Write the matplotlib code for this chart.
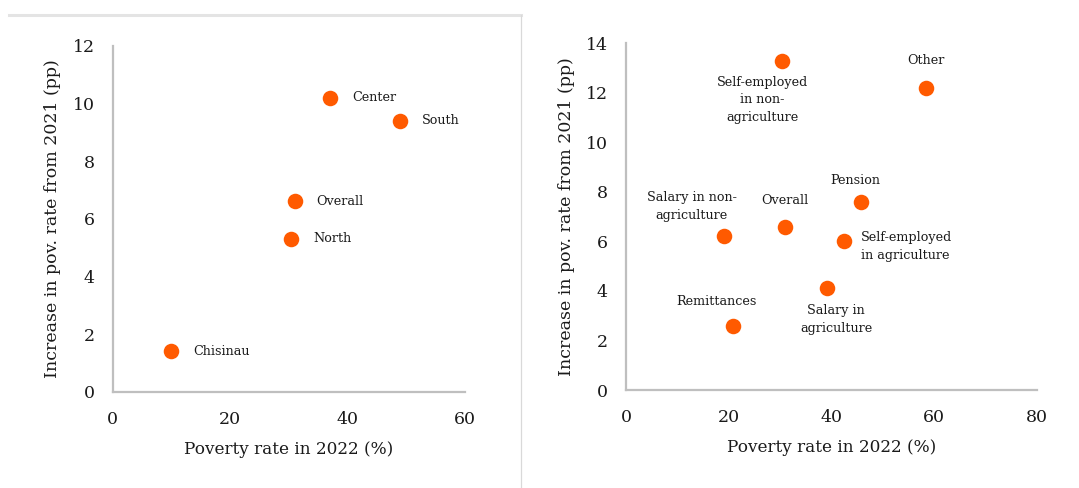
import matplotlib
matplotlib.use("Agg")
import matplotlib.pyplot as plt
from matplotlib.lines import Line2D

# left panel: regions
region_names = ["Chisinau", "North", "Overall", "Center", "South"]
region_pov = [10.0, 30.4, 31.0, 37.0, 48.9]
region_incr = [1.4, 5.3, 6.6, 10.2, 9.4]

# right panel: main income source
source_names = ["Self-employed\nin non-\nagriculture", "Other", "Pension", "Overall",
                "Salary in non-\nagriculture", "Self-employed\nin agriculture",
                "Salary in\nagriculture", "Remittances"]
source_pov = [30.4, 58.4, 45.8, 31.0, 19.0, 42.4, 39.2, 20.8]
source_incr = [13.3, 12.2, 7.6, 6.6, 6.2, 6.0, 4.1, 2.6]

# label offsets in pixels (dx, dy, ha)
source_offsets = [(-20, -39, "center"), (0, 27, "center"), (-6, 21, "center"),
                  (0, 26, "center"), (-32, 30, "center"), (17, -5, "left"),
                  (9, -31, "center"), (-16, 24, "center")]

orange = "#ff5a00"
gray = "#bfbfbf"
plt.rcParams["font.family"] = ["DejaVu Serif"]

fig = plt.figure(figsize=(10.79, 4.88), dpi=100)

# panel frame around the left chart
fig.add_artist(Line2D([9 / 1079, 521 / 1079], [1 - 14.5 / 488] * 2, color="#e4e4e4", lw=2.2))
fig.add_artist(Line2D([520.5 / 1079] * 2, [1 - 14.5 / 488, 0], color="#d9d9d9", lw=0.9))


def style(ax, xmax, ymax, ystep):
    ax.set_xlim(0, xmax)
    ax.set_ylim(0, ymax)
    ax.set_xticks(range(0, xmax + 1, 20))
    ax.set_yticks(range(0, ymax + 1, ystep))
    for s in ["top", "right"]:
        ax.spines[s].set_visible(False)
    for s in ["left", "bottom"]:
        ax.spines[s].set_color(gray)
        ax.spines[s].set_linewidth(1.6)
    ax.tick_params(length=0, labelsize=12.5, colors="#1a1a1a")
    ax.tick_params(axis="y", pad=13)
    ax.tick_params(axis="x", pad=14)
    ax.set_xlabel("Poverty rate in 2022 (%)", fontsize=12.2, color="#1a1a1a", labelpad=9)
    ax.set_ylabel("Increase in pov. rate from 2021 (pp)", fontsize=12.5, color="#1a1a1a", labelpad=8)


ax1 = fig.add_axes([0.1044, 0.1973, 0.3265, 0.709])
ax1.scatter(region_pov, region_incr, s=125, color=orange, zorder=3, linewidths=0)
for name, x, y in zip(region_names, region_pov, region_incr):
    ax1.annotate(name, (x, y), xytext=(22, 0), textcoords="offset pixels",
                 ha="left", va="center", fontsize=9.2, color="#1a1a1a")
style(ax1, 60, 12, 2)

ax2 = fig.add_axes([0.5802, 0.2008, 0.3806, 0.7105])
ax2.scatter(source_pov, source_incr, s=125, color=orange, zorder=3, linewidths=0)
for name, x, y, (dx, dy, ha) in zip(source_names, source_pov, source_incr, source_offsets):
    ax2.annotate(name, (x, y), xytext=(dx, dy), textcoords="offset pixels",
                 ha=ha, va="center", fontsize=9.2, color="#1a1a1a", linespacing=1.45,
                 multialignment="center" if ha == "center" else "left")
style(ax2, 80, 14, 2)

fig.savefig("out.png", dpi=100)
